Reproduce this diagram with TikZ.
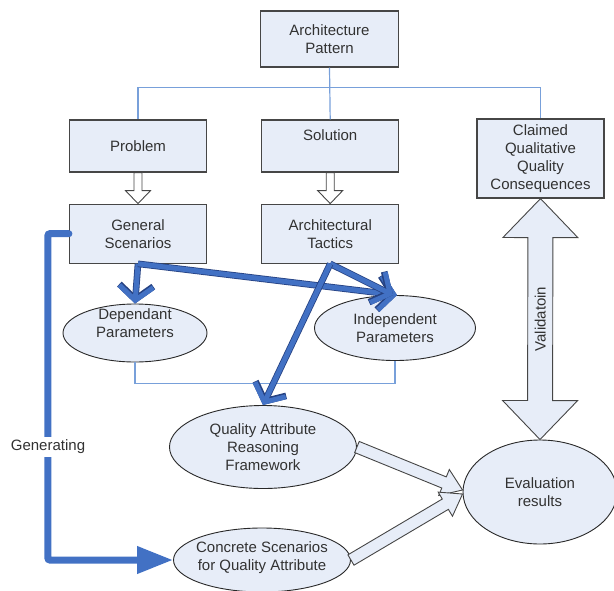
\documentclass[tikz,border=0pt]{standalone}
\usepackage{fontspec}
\setmainfont{Liberation Sans}
\usetikzlibrary{positioning,shapes.geometric,arrows.meta,calc}

\definecolor{boxfill}{RGB}{231,237,248}
\definecolor{boxline}{RGB}{70,70,70}
\definecolor{ovalline}{RGB}{40,40,40}
\definecolor{treeline}{RGB}{120,160,218}
\definecolor{flowblue}{RGB}{66,113,196}
\definecolor{flowedge}{RGB}{38,66,130}
\definecolor{textgray}{RGB}{50,50,50}

% hollow block arrow: [fill]{from}{to}{shaft half width}{head half width}{head length}
\newcommand{\hollowarrow}[6][boxfill]{%
  \coordinate (HeadBase) at ($(#3)!#6!(#2)$);
  \draw[hollow, fill=#1] ($(#2)!#4!90:(#3)$) -- ($(HeadBase)!#4!90:(#3)$)
    -- ($(HeadBase)!#5!90:(#3)$) -- (#3) -- ($(HeadBase)!#5!-90:(#3)$)
    -- ($(HeadBase)!#4!-90:(#3)$) -- ($(#2)!#4!-90:(#3)$) -- cycle;}
% same with a head at both ends
\newcommand{\hollowtwoway}[5]{%
  \coordinate (HeadBaseA) at ($(#1)!#5!(#2)$);
  \coordinate (HeadBaseB) at ($(#2)!#5!(#1)$);
  \draw[hollow] (#1) -- ($(HeadBaseA)!#4!90:(#2)$) -- ($(HeadBaseA)!#3!90:(#2)$)
    -- ($(HeadBaseB)!#3!90:(#2)$) -- ($(HeadBaseB)!#4!90:(#2)$) -- (#2)
    -- ($(HeadBaseB)!#4!-90:(#2)$) -- ($(HeadBaseB)!#3!-90:(#2)$)
    -- ($(HeadBaseA)!#3!-90:(#2)$) -- ($(HeadBaseA)!#4!-90:(#2)$) -- cycle;}

\begin{document}
\begin{tikzpicture}
    [x=1pt, y=-1pt,
     txt/.style = {font=\fontsize{15}{18}\selectfont, text=textgray, align=center},
     box/.style = {draw=boxline, fill=boxfill, line width=1.2pt, rectangle, minimum width=137pt, minimum height=52pt, txt},
     oval/.style = {draw=ovalline, fill=boxfill, line width=0.9pt, ellipse, inner sep=0pt},
     tree/.style = {draw=treeline, line width=1.2pt},
     flow/.style = {draw=flowblue, line width=5pt, preaction={draw=flowedge, line width=6.6pt}, -{Straight Barb[length=14pt, width=34pt]}},
     hollow/.style = {draw=boxline, fill=boxfill, line width=0.9pt, line join=miter}]
    \useasboundingbox (0,0) rectangle (614,590);

    \node[box, minimum width=138pt, minimum height=56pt] (ArchPattern) at (329.5,39) {Architecture\\Pattern};
    \node[box] (Problem) at (138,146) {Problem};
    \node[box, text depth=22pt] (Solution) [right=54pt of Problem] {Solution};
    \node[box, minimum width=127pt, minimum height=79pt] (Claimed) at (540.5,158.5) {Claimed\\Qualitative\\Quality\\Consequences};
    \node[box, minimum height=59pt] (GeneralScenarios) [below=31pt of Problem] {General\\Scenarios};
    \node[box, minimum height=59pt] (ArchTactics) [below=31pt of Solution] {Architectural\\Tactics};

    \node[oval, minimum width=144pt, minimum height=58pt, label={[txt, yshift=10pt]center:Dependant\\Parameters}] (DependantParams) at (135,333) {};
    \node[oval, minimum width=161pt, minimum height=65pt, label={[txt]center:Independent\\Parameters}] (IndependentParams) at (395,328) {};
    \node[oval, minimum width=187pt, minimum height=83pt, label={[txt]center:Quality Attribute\\Reasoning\\Framework}] (QualityFramework) at (263,447) {};
    \node[oval, minimum width=154pt, minimum height=104pt, label={[txt]center:Evaluation\\results}] (EvaluationResults) at (540,492) {};
    \node[oval, minimum width=177pt, minimum height=64pt, label={[txt, yshift=2pt]center:Concrete Scenarios\\for Quality Attribute}] (ConcreteScenarios) at (262,560) {};

    % thin tree lines
    \draw[tree] (ArchPattern.south) -- (Solution.north);
    \draw[tree] (ArchPattern.south) -- ++(0,20) -| (Problem.north);
    \draw[tree] (ArchPattern.south) -- ++(0,20) -| (Claimed.north);
    \draw[tree] (DependantParams.south) -- ++(0,21) -| (IndependentParams.south);

    % block arrows
    \hollowarrow[white]{Problem.south}{GeneralScenarios.north}{4pt}{12.5pt}{13pt}
    \hollowarrow[white]{Solution.south}{ArchTactics.north}{4pt}{12.5pt}{13pt}
    \hollowtwoway{Claimed.south}{EvaluationResults.north}{12.5pt}{37.5pt}{39pt}
    \node[txt, rotate=90] (ValidationLabel) at ($(Claimed.south)!0.5!(EvaluationResults.north)$) {Validatoin};
    \hollowarrow{QualityFramework.east}{[yshift=2pt]EvaluationResults.west}{6pt}{14pt}{20pt}
    \hollowarrow{ConcreteScenarios.east}{[yshift=-2pt]EvaluationResults.west}{6pt}{14pt}{20pt}

    % thick blue arrows
    \path (GeneralScenarios.south) edge[flow] (DependantParams.north);
    \path (GeneralScenarios.south) edge[flow] ([xshift=2pt]IndependentParams.north);
    \path (ArchTactics.south) edge[flow] ([xshift=-2pt]IndependentParams.north);
    \path (ArchTactics.south) edge[flow] (QualityFramework.north);

    \draw[flowblue, line width=7pt, line cap=round, rounded corners=2pt, -{Triangle[length=36pt, width=26pt]}] (GeneralScenarios.west) -- ++(-21,0) |- (ConcreteScenarios.west);
    \node[txt, fill=white, inner sep=3pt] (GeneratingLabel) at (48,447) {Generating};
\end{tikzpicture}
\end{document}
